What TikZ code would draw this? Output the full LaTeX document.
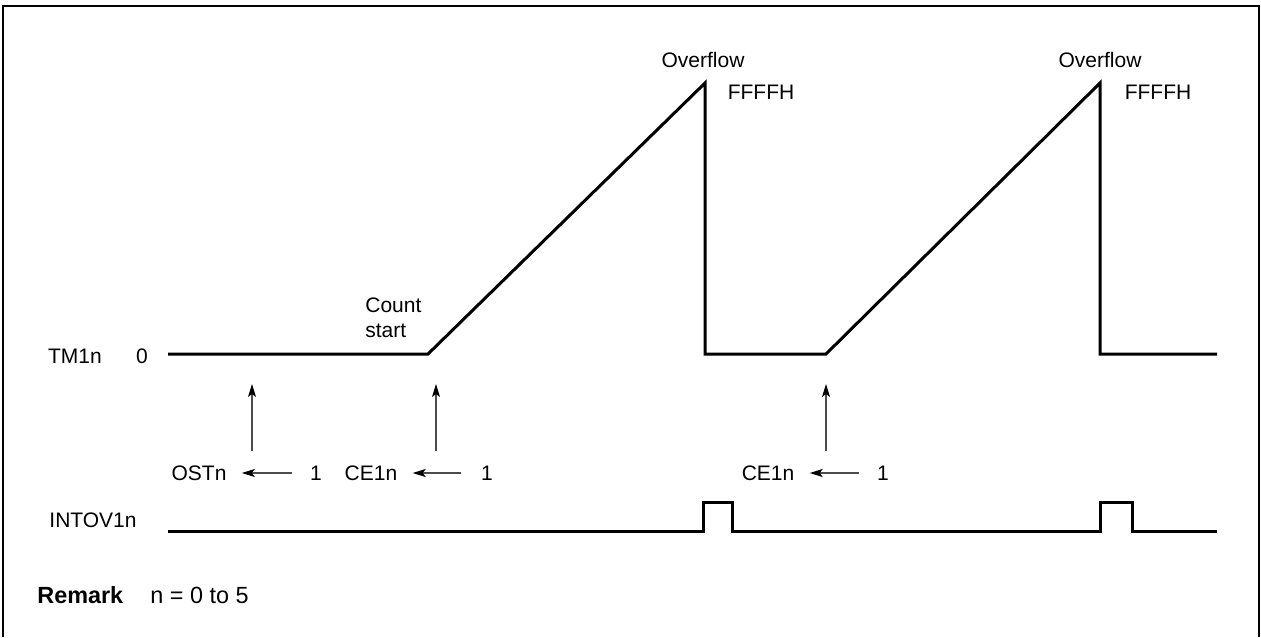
\documentclass[tikz,border=0pt]{standalone}
\usepackage{fontspec}
\setmainfont{Liberation Sans}
\usetikzlibrary{arrows.meta, positioning}

\begin{document}
\begin{tikzpicture}[
    x=0.5pt, y=-0.5pt,
    lbl/.style={inner sep=0pt, font=\fontsize{10.5}{12.5}\selectfont},
    note/.style={inner sep=0pt, font=\fontsize{11.7}{14}\selectfont},
    signal/.style={line width=1.5pt, line join=miter},
    arrow/.style={-{Stealth[length=6.5pt, width=4pt, inset=1.5pt, black]}, line width=0.6pt, draw=black!70},
    frame/.style={line width=1pt}
]
\useasboundingbox (0,0) rectangle (1261,637);
\draw[frame] (3,637) -- (3,6) -- (1259,6) -- (1259,637);

% counter waveform
\coordinate (t0) at (168,354);
\coordinate (s1) at (428,354);
\coordinate (p1) at (705,83);
\coordinate (d1) at (705,354);
\coordinate (s2) at (826,354);
\coordinate (p2) at (1100,83);
\coordinate (d2) at (1100,354);
\coordinate (t1) at (1217,354);
\draw[signal] (t0) -- (s1) -- (p1) -- (d1) -- (s2) -- (p2) -- (d2) -- (t1);

\node[lbl] (tm) at (75,356) {TM1n};
\node[lbl] (zero) at (142,356) {0};
\node[lbl, align=left, anchor=west] (cstart) at (365,318) {Count\\start};
\node[lbl] (ovf1) at (703,60) {Overflow};
\node[lbl] (ffff1) at (761,92) {FFFFH};
\node[lbl] (ovf2) at (1100,60) {Overflow};
\node[lbl] (ffff2) at (1158,92) {FFFFH};

% register writes
\node[lbl] (ost) at (199,473) {OSTn};
\node[lbl] (one1) at (316,473) {1};
\node[lbl] (ce1) at (371,473) {CE1n};
\node[lbl] (one2) at (487,473) {1};
\node[lbl] (ce2) at (768,473) {CE1n};
\node[lbl] (one3) at (883,473) {1};

\draw[arrow, shorten <=9pt, shorten >=7.5pt] (one1) -- (ost);
\draw[arrow, shorten <=10pt, shorten >=7.5pt] (one2) -- (ce1);
\draw[arrow, shorten <=9pt, shorten >=7.5pt] (one3) -- (ce2);

\coordinate (ostup) at (252,451);
\coordinate (ostok) at (252,384);
\coordinate (ce1up) at (436,451);
\coordinate (ce1ok) at (436,384);
\coordinate (ce2up) at (826,451);
\coordinate (ce2ok) at (826,384);
\draw[arrow] (ostup) -- (ostok);
\draw[arrow] (ce1up) -- (ce1ok);
\draw[arrow] (ce2up) -- (ce2ok);

% interrupt request
\node[lbl] (intov) at (93,520) {INTOV1n};
\coordinate (i0) at (168,531);
\coordinate (i1) at (1217,531);
\draw[signal] (i0) -- (703,531) -- (703,502) -- (732,502) -- (732,531)
    -- (1100,531) -- (1100,502) -- (1132,502) -- (1132,531) -- (i1);

\node[note, anchor=west] (remark) at (37,595) {\textbf{Remark}};
\node[note, anchor=west] (nrange) at (150,595) {n = 0 to 5};
\end{tikzpicture}
\end{document}
